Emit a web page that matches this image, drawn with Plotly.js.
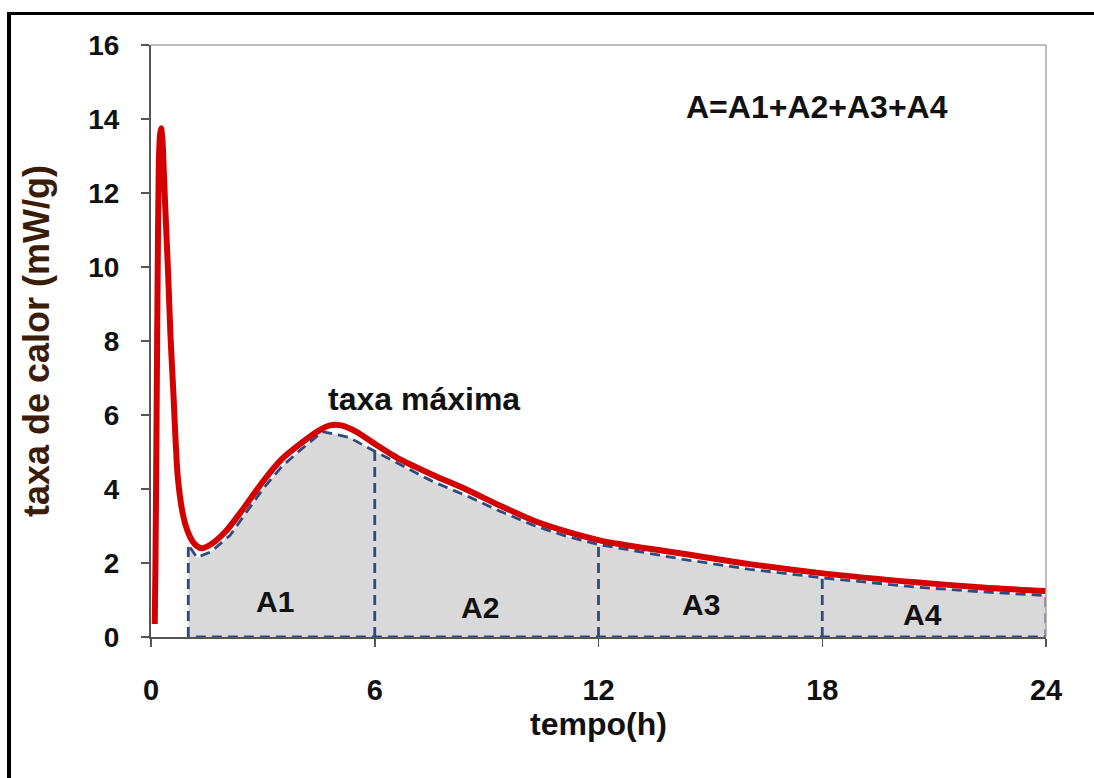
<!DOCTYPE html>
<html>
<head>
<meta charset="utf-8">
<script src="https://cdn.plot.ly/plotly-3.0.1.min.js"></script>
<style>
  html, body { margin: 0; padding: 0; background: #ffffff; overflow: hidden; }
  #wrap { position: relative; width: 1094px; height: 778px; }
  #chart { position: absolute; left: 0; top: 0; width: 1094px; height: 778px; }
  #frame { position: absolute; left: 7px; top: 12px; width: 3000px; height: 3000px;
           border-left: 4px solid #000; border-top: 3px solid #000; pointer-events: none; }
</style>
</head>
<body>
<div id="wrap">
  <div id="chart"></div>
  <div id="frame"></div>
</div>
<script>
// Heat-rate curve (red)
const timeH = [0.10, 0.12, 0.15, 0.18, 0.21, 0.24, 0.27, 0.31, 0.35, 0.40, 0.46, 0.52, 0.60, 0.72, 0.88, 1.05, 1.18, 1.35, 1.60, 2.00, 2.50, 3.00, 3.50, 4.00, 4.50, 4.80, 5.10, 5.50, 6.00, 6.68, 7.56, 8.47, 9.36, 10.25, 11.15, 12.00, 12.50, 14.27, 16.06, 18.02, 20.50, 22.30, 24.00];
const heatRate = [0.35, 2.0, 6.0, 10.0, 12.8, 13.55, 13.75, 13.4, 12.4, 11.2, 9.8, 8.2, 6.6, 4.3, 3.2, 2.7, 2.5, 2.4, 2.5, 2.85, 3.5, 4.2, 4.8, 5.22, 5.58, 5.72, 5.72, 5.55, 5.22, 4.80, 4.38, 3.98, 3.55, 3.15, 2.85, 2.62, 2.52, 2.25, 1.97, 1.72, 1.48, 1.34, 1.24];

// Integrated-area boundary (dashed)
const areaT = [1.00, 1.23, 1.60, 2.12, 3.00, 3.50, 4.00, 4.60, 5.30, 6.00, 6.80, 7.56, 8.50, 9.36, 10.25, 11.15, 12.00, 14.27, 16.06, 18.00, 20.50, 22.30, 24.00];
const areaY = [2.50, 2.15, 2.30, 2.75, 4.00, 4.60, 5.05, 5.55, 5.40, 5.02, 4.60, 4.20, 3.80, 3.40, 3.02, 2.72, 2.50, 2.10, 1.83, 1.60, 1.35, 1.22, 1.12];

const dividers = [6, 12, 18];
const areaLabels = ['A1', 'A2', 'A3', 'A4'];
const labelX = [3.33, 8.82, 14.75, 20.68];
const labelY = [0.95, 0.81, 0.88, 0.62];

const xTicks = [0, 6, 12, 18, 24];
const yTicks = [0, 2, 4, 6, 8, 10, 12, 14, 16];

const navy = '#2e4a7e';
const dashStyle = '10px,6px';
const font = 'Liberation Sans, Arial, sans-serif';

// closed polygon for the shaded region
const polyX = [areaT[0]].concat(areaT, [areaT[areaT.length - 1], areaT[0]]);
const polyY = [0].concat(areaY, [0, 0]);

const traces = [{
  x: polyX, y: polyY, type: 'scatter', mode: 'lines', fill: 'toself',
  fillcolor: '#d9d9d9', line: {color: navy, width: 2.8, dash: dashStyle},
  hoverinfo: 'skip', showlegend: false
}];

dividers.forEach(d => {
  const i = areaT.indexOf(d);
  traces.push({
    x: [d, d], y: [0, areaY[i]], type: 'scatter', mode: 'lines',
    line: {color: navy, width: 2.8, dash: dashStyle}, showlegend: false, hoverinfo: 'skip'
  });
});

traces.push({
  x: timeH, y: heatRate, type: 'scatter', mode: 'lines',
  line: {color: '#d40000', width: 6, shape: 'spline', smoothing: 0.7},
  showlegend: false
});

const annotations = areaLabels.map((t, i) => ({
  x: labelX[i], y: labelY[i], xref: 'x', yref: 'y', text: '<b>' + t + '</b>',
  showarrow: false, font: {family: font, size: 30, color: '#111'}
}));
annotations.push({x: 7.32, y: 6.43, xref: 'x', yref: 'y', text: '<b>taxa máxima</b>',
  showarrow: false, font: {family: font, size: 32, color: '#111'}});
annotations.push({x: 17.86, y: 14.32, xref: 'x', yref: 'y', text: '<b>A=A1+A2+A3+A4</b>',
  showarrow: false, font: {family: font, size: 32, color: '#111'}});

const layout = {
  width: 1094, height: 778,
  margin: {l: 151, r: 48, t: 45, b: 141, pad: 0},
  paper_bgcolor: '#ffffff', plot_bgcolor: '#ffffff',
  showlegend: false,
  xaxis: {
    range: [0, 24], tickvals: xTicks, ticktext: xTicks.map(String),
    showgrid: false, zeroline: false, showline: true, linecolor: '#555', linewidth: 2,
    ticks: 'outside', ticklen: 8, tickwidth: 1.5, tickcolor: '#555',
    ticklabelstandoff: 18,
    tickfont: {family: font, size: 29, color: '#111', weight: 'bold'},
    title: {text: '<b>tempo(h)</b>', font: {family: font, size: 32, color: '#111'}, standoff: 8}
  },
  yaxis: {
    range: [0, 16], tickvals: yTicks, ticktext: yTicks.map(String),
    showgrid: false, zeroline: false, showline: true, linecolor: '#555', linewidth: 2,
    ticks: 'outside', ticklen: 8, tickwidth: 1.5, tickcolor: '#555',
    ticklabelstandoff: 16,
    tickfont: {family: font, size: 28, color: '#111', weight: 'bold'},
    title: {text: '<b>taxa de calor (mW/g)</b>', font: {family: font, size: 36, color: '#3a1c08'}, standoff: 28}
  },
  shapes: [
    {type: 'line', xref: 'paper', yref: 'paper', x0: 0, x1: 1, y0: 1, y1: 1, line: {color: '#a8a8a8', width: 1.5}},
    {type: 'line', xref: 'paper', yref: 'paper', x0: 1, x1: 1, y0: 0, y1: 1, line: {color: '#a8a8a8', width: 1.5}}
  ],
  annotations: annotations
};

Plotly.newPlot('chart', traces, layout, {displayModeBar: false, staticPlot: true});
</script>
</body>
</html>
